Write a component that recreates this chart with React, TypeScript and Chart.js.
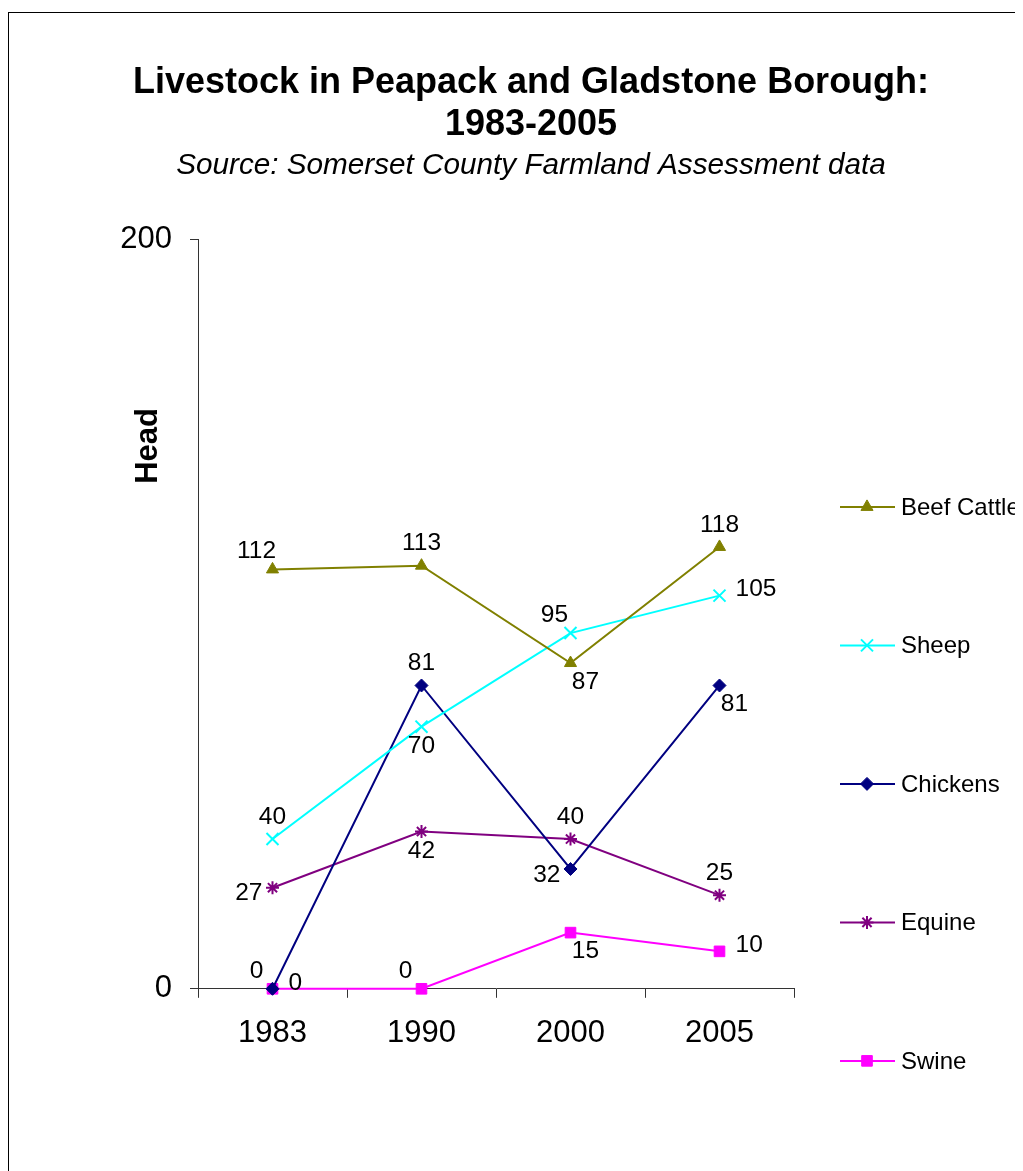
import React, { useEffect, useRef } from 'react';
import { Chart, registerables } from 'chart.js';
import { drawPoint } from 'chart.js/helpers';

Chart.register(...registerables);

const FONT = '"Liberation Sans", Arial, Helvetica, sans-serif';

// ---- data ----
const years = ['1983', '1990', '2000', '2005'];
const seriesNames = ['Beef Cattle', 'Sheep', 'Chickens', 'Equine', 'Swine'];
const beefCattle = [112, 113, 87, 118];
const sheep = [40, 70, 95, 105];
const chickens = [0, 81, 32, 81];
const equine = [27, 42, 40, 25];
const swine = [0, 0, 15, 10];
const yTickValues = [0, 200];

const titleLines = ['Livestock in Peapack and Gladstone Borough:', '1983-2005'];
const subtitleText = 'Source: Somerset County Farmland Assessment data';
const yAxisTitle = 'Head';

// ---- styling ----
const seriesStyles = [
  { color: '#808000', pointStyle: 'triangle', radius: 7, borderWidth: 1 },
  { color: '#00FFFF', pointStyle: 'crossRot', radius: 8.5, borderWidth: 2 },
  { color: '#000080', pointStyle: 'rectRot', radius: 6.5, borderWidth: 1 },
  { color: '#800080', pointStyle: 'star', radius: 6.5, borderWidth: 2 },
  { color: '#FF00FF', pointStyle: 'rect', radius: 7.5, borderWidth: 1 },
];

// where each value label sits relative to its point
const labelPlacement = [
  ['aboveLeft', 'above', 'belowRight', 'above'],
  ['above', 'below', 'aboveLeft', 'right'],
  ['aboveLeft', 'above', 'left', 'belowRight'],
  ['left', 'below', 'above', 'above'],
  ['right', 'aboveLeft', 'belowRight', 'right'],
];

const PLACEMENTS: Record<string, { dx: number; dy: number; align: CanvasTextAlign }> = {
  above: { dx: 0, dy: -22, align: 'center' },
  below: { dx: 0, dy: 20, align: 'center' },
  aboveLeft: { dx: -16, dy: -18, align: 'center' },
  belowRight: { dx: 15, dy: 19, align: 'center' },
  left: { dx: -10, dy: 6, align: 'right' },
  right: { dx: 16, dy: -6, align: 'left' },
};

const seriesValues = [beefCattle, sheep, chickens, equine, swine];

const valueLabels = {
  id: 'valueLabels',
  afterDatasetsDraw(chart: any) {
    const ctx = chart.ctx;
    ctx.save();
    ctx.font = `24.5px ${FONT}`;
    ctx.fillStyle = '#000';
    ctx.textBaseline = 'middle';
    chart.data.datasets.forEach((ds: any, i: number) => {
      const meta = chart.getDatasetMeta(i);
      meta.data.forEach((pt: any, j: number) => {
        const p = PLACEMENTS[labelPlacement[i][j]];
        ctx.textAlign = p.align;
        ctx.fillText(String(ds.data[j]), pt.x + p.dx, pt.y + p.dy);
      });
    });
    ctx.restore();
  },
};

const sideLegend = {
  id: 'sideLegend',
  afterDraw(chart: any) {
    const ctx = chart.ctx;
    const area = chart.chartArea;
    ctx.save();
    // vertical axis title
    ctx.font = `bold 31px ${FONT}`;
    ctx.fillStyle = '#000';
    ctx.textAlign = 'center';
    ctx.textBaseline = 'middle';
    ctx.translate(area.left - 50, area.top + 206);
    ctx.rotate(-Math.PI / 2);
    ctx.fillText(yAxisTitle, 0, 0);
    ctx.restore();

    ctx.save();
    ctx.font = `24px ${FONT}`;
    ctx.textAlign = 'left';
    ctx.textBaseline = 'middle';
    const top = area.top + 267;
    const gap = 138.5;
    chart.data.datasets.forEach((ds: any, i: number) => {
      const st = seriesStyles[i];
      const y = top + i * gap;
      ctx.strokeStyle = st.color;
      ctx.lineWidth = 2;
      ctx.beginPath();
      ctx.moveTo(area.right + 46, y);
      ctx.lineTo(area.right + 101, y);
      ctx.stroke();
      ctx.fillStyle = st.color;
      ctx.lineWidth = st.borderWidth;
      drawPoint(ctx, { pointStyle: st.pointStyle, radius: st.radius, rotation: 0, borderWidth: st.borderWidth } as any, area.right + 73, y);
      ctx.fillStyle = '#000';
      ctx.fillText(ds.label, area.right + 107, y + 1);
    });
    ctx.restore();
  },
};

export default function App() {
  const canvasRef = useRef<HTMLCanvasElement>(null);

  useEffect(() => {
    const canvas = canvasRef.current;
    if (!canvas) return;
    const chart = new Chart(canvas, {
      type: 'line',
      data: {
        labels: years,
        datasets: seriesNames.map((name, i) => ({
          label: name,
          data: seriesValues[i],
          borderColor: seriesStyles[i].color,
          backgroundColor: seriesStyles[i].color,
          borderWidth: 2,
          pointStyle: seriesStyles[i].pointStyle as any,
          pointRadius: seriesStyles[i].radius,
          pointBorderWidth: seriesStyles[i].borderWidth,
          pointBackgroundColor: seriesStyles[i].color,
          pointBorderColor: seriesStyles[i].color,
          tension: 0,
          fill: false,
          clip: false as any,
        })),
      },
      options: {
        responsive: false,
        animation: false,
        events: [],
        layout: { padding: { left: 0, right: 0, top: 0, bottom: 142 } },
        plugins: {
          legend: { display: false },
          tooltip: { enabled: false },
          title: {
            display: true,
            text: titleLines,
            color: '#000',
            font: { family: FONT, size: 36, weight: 'bold', lineHeight: 1.17 },
            padding: { top: 49, bottom: 0 },
          },
          subtitle: {
            display: true,
            text: subtitleText,
            color: '#000',
            font: { family: FONT, size: 29.7, style: 'italic', lineHeight: 1.2 },
            padding: { top: 2, bottom: 56 },
          },
        },
        scales: {
          x: {
            type: 'category',
            offset: true,
            grid: { offset: true, drawOnChartArea: false, drawTicks: true, tickLength: 9, color: '#333' },
            border: { display: true, color: '#333', width: 1 },
            ticks: { color: '#000', font: { family: FONT, size: 31 }, padding: 17, maxRotation: 0 },
          },
          y: {
            min: yTickValues[0],
            max: yTickValues[yTickValues.length - 1],
            afterBuildTicks: (scale: any) => {
              scale.ticks = yTickValues.map((v) => ({ value: v }));
            },
            afterFit: (scale: any) => {
              scale.width = 189;
            },
            grid: { drawOnChartArea: false, drawTicks: true, tickLength: 8, color: '#333' },
            border: { display: true, color: '#333', width: 1 },
            ticks: { color: '#000', font: { family: FONT, size: 31 }, padding: 18 },
          },
          // empty right-hand axis that reserves room for the series key
          keySpace: {
            type: 'linear',
            position: 'right',
            display: true,
            grid: { display: false, drawTicks: false },
            border: { display: false },
            ticks: { display: false },
            afterFit: (scale: any) => {
              scale.width = 259;
            },
          },
        },
      },
      plugins: [valueLabels, sideLegend],
    });
    return () => chart.destroy();
  }, []);

  return (
    <div
      style={{
        position: 'relative',
        top: 4,
        width: 1046,
        height: 1200,
        border: '1px solid #000',
        boxSizing: 'border-box',
      }}
    >
      <canvas ref={canvasRef} width={1044} height={1198} style={{ display: 'block' }} />
    </div>
  );
}
